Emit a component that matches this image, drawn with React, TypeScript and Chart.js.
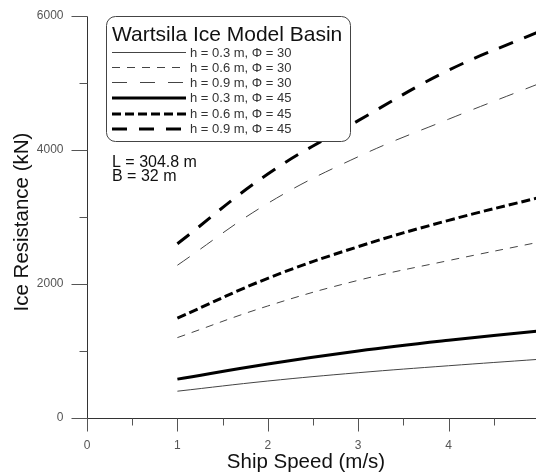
import React, { useEffect, useRef } from "react";
import { Chart, registerables } from "chart.js";

Chart.register(...registerables);

const speeds = [1, 2, 3, 4, 5];
const h03phi30 = [400, 552, 676, 780, 876];
const h06phi30 = [1200, 1672, 2055, 2350, 2625];
const h09phi30 = [2280, 3204, 3900, 4460, 4990];
const h03phi45 = [580, 806, 1000, 1160, 1300];
const h06phi45 = [1490, 2085, 2557, 2950, 3290];
const h09phi45 = [2600, 3642, 4438, 5190, 5765];

const seriesLabels = [
  "h = 0.3 m, \u03A6 = 30",
  "h = 0.6 m, \u03A6 = 30",
  "h = 0.9 m, \u03A6 = 30",
  "h = 0.3 m, \u03A6 = 45",
  "h = 0.6 m, \u03A6 = 45",
  "h = 0.9 m, \u03A6 = 45",
];
const seriesValues = [h03phi30, h06phi30, h09phi30, h03phi45, h06phi45, h09phi45];
const seriesDash: number[][] = [[], [8, 7], [15, 13], [], [9, 4], [15, 12]];
const seriesWidth = [1, 1, 1, 3, 3, 3];
const seriesColor = ["#444", "#444", "#444", "#000", "#000", "#000"];

const xTicksMajor = [0, 1, 2, 3, 4, 5];
const xTicksMinor = [0.5, 1.5, 2.5, 3.5, 4.5];
const yTicksMajor = [0, 2000, 4000, 6000];
const yTicksMinor = [1000, 3000, 5000];

const legendTitle = "Wartsila Ice Model Basin";
const noteLines = ["L = 304.8 m", "B = 32 m"];
const xTitle = "Ship Speed (m/s)";
const yTitle = "Ice Resistance (kN)";

const FONT = 'Arial, "Liberation Sans", sans-serif';

const decorPlugin = {
  id: "decor",
  afterDraw(chart: any) {
    const ctx = chart.ctx as CanvasRenderingContext2D;
    const xs = chart.scales.x;
    const ys = chart.scales.y;
    const x0 = Math.round(xs.getPixelForValue(0)) + 0.5;
    const y0 = Math.round(ys.getPixelForValue(0)) + 0.5;
    const yTop = Math.round(ys.getPixelForValue(6000)) + 0.5;
    ctx.save();
    ctx.strokeStyle = "#333";
    ctx.lineWidth = 1;
    ctx.setLineDash([]);
    // axes
    ctx.beginPath();
    ctx.moveTo(x0, yTop);
    ctx.lineTo(x0, y0);
    ctx.moveTo(x0, y0);
    ctx.lineTo(chart.width + 10, y0);
    ctx.stroke();
    // ticks
    ctx.strokeStyle = "#555";
    ctx.beginPath();
    xTicksMajor.forEach((v) => {
      const px = Math.round(xs.getPixelForValue(v)) + 0.5;
      ctx.moveTo(px, y0);
      ctx.lineTo(px, y0 + 13);
    });
    xTicksMinor.forEach((v) => {
      const px = Math.round(xs.getPixelForValue(v)) + 0.5;
      ctx.moveTo(px, y0);
      ctx.lineTo(px, y0 + 7);
    });
    yTicksMajor.forEach((v) => {
      const py = Math.round(ys.getPixelForValue(v)) + 0.5;
      ctx.moveTo(x0, py);
      ctx.lineTo(x0 - 16, py);
    });
    yTicksMinor.forEach((v) => {
      const py = Math.round(ys.getPixelForValue(v)) + 0.5;
      ctx.moveTo(x0, py);
      ctx.lineTo(x0 - 8, py);
    });
    ctx.stroke();
    // tick labels
    ctx.fillStyle = "#555";
    ctx.font = `12px ${FONT}`;
    ctx.textAlign = "center";
    ctx.textBaseline = "middle";
    xTicksMajor.forEach((v) => {
      ctx.fillText(String(v), xs.getPixelForValue(v), y0 + 27);
    });
    ctx.textAlign = "right";
    yTicksMajor.forEach((v) => {
      ctx.fillText(String(v), x0 - 24, ys.getPixelForValue(v));
    });
    // axis titles
    ctx.fillStyle = "#111";
    ctx.font = `20.5px ${FONT}`;
    ctx.textAlign = "center";
    ctx.fillText(xTitle, 306, 462);
    ctx.save();
    ctx.translate(22, 222);
    ctx.rotate(-Math.PI / 2);
    ctx.fillText(yTitle, 0, 0);
    ctx.restore();
    // legend box
    const bx = 106.5, by = 16.5, bw = 244, bh = 125, r = 9;
    ctx.fillStyle = "#fff";
    ctx.strokeStyle = "#444";
    ctx.lineWidth = 1;
    ctx.beginPath();
    ctx.moveTo(bx + r, by);
    ctx.lineTo(bx + bw - r, by);
    ctx.arcTo(bx + bw, by, bx + bw, by + r, r);
    ctx.lineTo(bx + bw, by + bh - r);
    ctx.arcTo(bx + bw, by + bh, bx + bw - r, by + bh, r);
    ctx.lineTo(bx + r, by + bh);
    ctx.arcTo(bx, by + bh, bx, by + bh - r, r);
    ctx.lineTo(bx, by + r);
    ctx.arcTo(bx, by, bx + r, by, r);
    ctx.closePath();
    ctx.fill();
    ctx.stroke();
    ctx.fillStyle = "#111";
    ctx.font = `21px ${FONT}`;
    ctx.textAlign = "left";
    ctx.textBaseline = "alphabetic";
    ctx.fillText(legendTitle, 112, 41);
    const rowsY = [52.5, 67.5, 82.5, 98, 114, 129];
    ctx.font = `13px ${FONT}`;
    seriesLabels.forEach((lab, i) => {
      const yy = rowsY[i];
      ctx.strokeStyle = seriesColor[i];
      ctx.lineWidth = seriesWidth[i];
      ctx.setLineDash(seriesDash[i]);
      ctx.beginPath();
      ctx.moveTo(112, yy);
      ctx.lineTo(186, yy);
      ctx.stroke();
      ctx.setLineDash([]);
      ctx.fillStyle = "#333";
      ctx.textBaseline = "middle";
      ctx.fillText(lab, 190, yy + 0.5);
    });
    // notes
    ctx.fillStyle = "#111";
    ctx.font = `16px ${FONT}`;
    ctx.textBaseline = "alphabetic";
    ctx.fillText(noteLines[0], 112, 167);
    ctx.fillText(noteLines[1], 112, 181);
    ctx.restore();
  },
};

export default function App() {
  const ref = useRef<HTMLCanvasElement | null>(null);
  useEffect(() => {
    document.body.style.margin = "0";
    const canvas = ref.current!;
    const chart = new Chart(canvas, {
      type: "line",
      data: {
        datasets: seriesLabels.map((lab, i) => ({
          label: lab,
          data: speeds.map((s, j) => ({ x: s, y: seriesValues[i][j] })),
          borderColor: seriesColor[i],
          borderWidth: seriesWidth[i],
          borderDash: seriesDash[i],
          pointRadius: 0,
          fill: false,
          tension: 0.4,
        })),
      },
      options: {
        responsive: false,
        animation: false,
        devicePixelRatio: 1,
        layout: { padding: { left: 87, top: 16, right: 3, bottom: 55 } },
        plugins: { legend: { display: false }, tooltip: { enabled: false } },
        scales: {
          x: { type: "linear", min: 0, max: 5, display: false },
          y: { type: "linear", min: 0, max: 6000, display: false },
        },
      },
      plugins: [decorPlugin],
    });
    return () => chart.destroy();
  }, []);
  return (
    <div style={{ position: "absolute", left: 0, top: 0, width: 536, height: 473, overflow: "hidden", background: "#fff" }}>
      <canvas ref={ref} width={542} height={473} style={{ display: "block" }} />
    </div>
  );
}
